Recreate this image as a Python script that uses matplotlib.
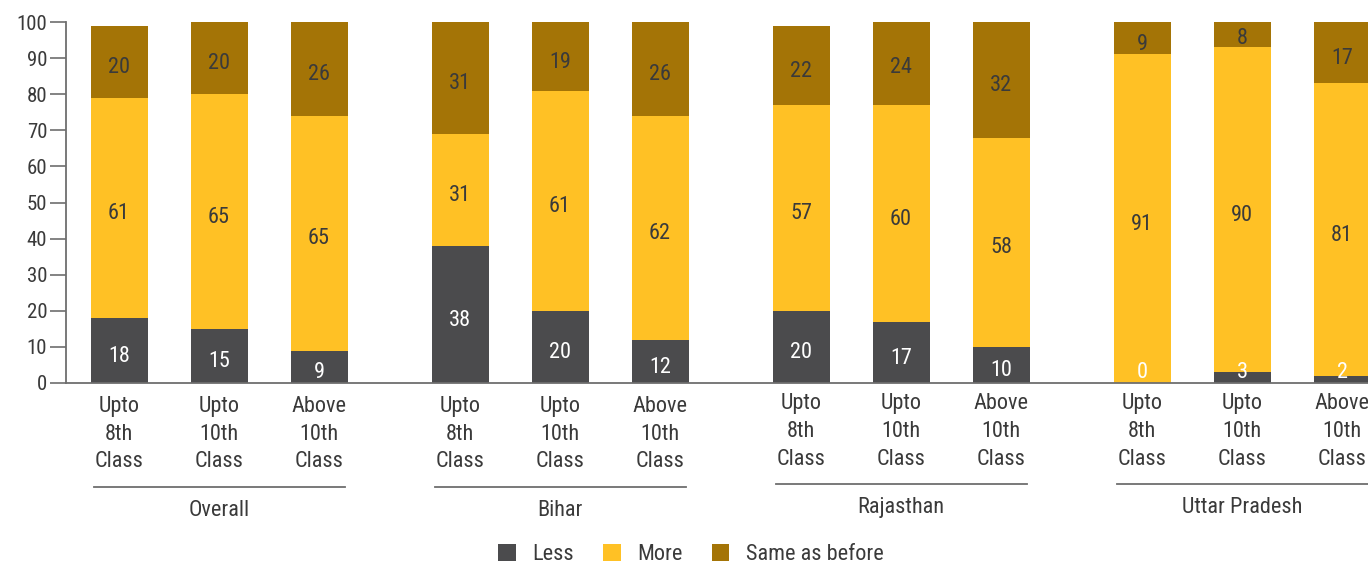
import numpy as np
import matplotlib.pyplot as plt
from matplotlib.patches import Patch
from matplotlib.transforms import blended_transform_factory

plt.rcParams['font.family'] = ['Liberation Sans Narrow', 'Roboto Condensed', 'Liberation Sans', 'DejaVu Sans']

groups = ['Overall', 'Bihar', 'Rajasthan', 'Uttar Pradesh']
classes = ['Upto\n8th\nClass', 'Upto\n10th\nClass', 'Above\n10th\nClass']
series = ['Less', 'More', 'Same as before']

less = [18, 15, 9, 38, 20, 12, 20, 17, 10, 0, 3, 2]
more = [61, 65, 65, 31, 61, 62, 57, 60, 58, 91, 90, 81]
same = [20, 20, 26, 31, 19, 26, 22, 24, 32, 9, 8, 17]

colors = ['#4b4b4d', '#ffc125', '#a47406']
text_dark = '#3a3a3a'
axis_grey = '#6e6e6e'

group_step = 3.41
bar_w = 0.57
x = np.array([g * group_step + i for g in range(len(groups)) for i in range(len(classes))])

fig = plt.figure(figsize=(13.68, 5.68), dpi=100)
ax = fig.add_axes([66 / 1368, 185 / 568, 1 - 66 / 1368, 361 / 568])

less = np.array(less)
more = np.array(more)
same = np.array(same)
ax.bar(x, less, bar_w, color=colors[0], zorder=2)
ax.bar(x, more, bar_w, bottom=less, color=colors[1], zorder=2)
ax.bar(x, same, bar_w, bottom=less + more, color=colors[2], zorder=2)

# value labels sit a little below the segment middle; tiny bottom ones kept readable
drop = 1.6
for xi, l, m, s in zip(x, less, more, same):
    ax.text(xi, max(l / 2, 4.6) - drop, str(l), ha='center', va='center', color='white', fontsize=16, zorder=3)
    ax.text(xi, l + m / 2 - drop, str(m), ha='center', va='center', color=text_dark, fontsize=16, zorder=3)
    ax.text(xi, l + m + s / 2 - drop, str(s), ha='center', va='center', color=text_dark, fontsize=16, zorder=3)

ax.set_xlim(-0.53, 12.49)
ax.set_ylim(0, 100)
ax.set_yticks(np.arange(0, 101, 10))
ax.tick_params(axis='y', length=11.5, width=1.2, color=axis_grey, labelsize=15, labelcolor=text_dark, pad=2)
ax.set_xticks([])
for side in ['top', 'right']:
    ax.spines[side].set_visible(False)
for side in ['left', 'bottom']:
    ax.spines[side].set_color(axis_grey)
    ax.spines[side].set_linewidth(1.3)

trans = blended_transform_factory(ax.transData, ax.transAxes)
# last two groups sit a touch higher
offsets = [0.0, 0.0, 0.008, 0.008]
for g, name in enumerate(groups):
    off = offsets[g]
    for i, lab in enumerate(classes):
        ax.text(g * group_step + i, -0.036 + off, lab, transform=trans, ha='center', va='top',
                fontsize=16, color=text_dark, linespacing=1.42, clip_on=False)
    x0 = g * group_step - 0.25
    x1 = g * group_step + 2 + 0.26
    ax.plot([x0, x1], [-0.288 + off] * 2, transform=trans, color=axis_grey, lw=1.3, clip_on=False)
    ax.text(g * group_step + 1, -0.354 + off, name, transform=trans, ha='center', va='center',
            fontsize=16, color=text_dark, clip_on=False)

handles = [Patch(facecolor=c, label=s) for c, s in zip(colors, series)]
fig.legend(handles=handles, loc='center', bbox_to_anchor=(0.505, 0.024), ncol=3, frameon=False,
           fontsize=16, handlelength=0.8, handleheight=0.8, handletextpad=0.75, columnspacing=1.3,
           labelcolor=text_dark)

fig.savefig('out.png', dpi=100)
